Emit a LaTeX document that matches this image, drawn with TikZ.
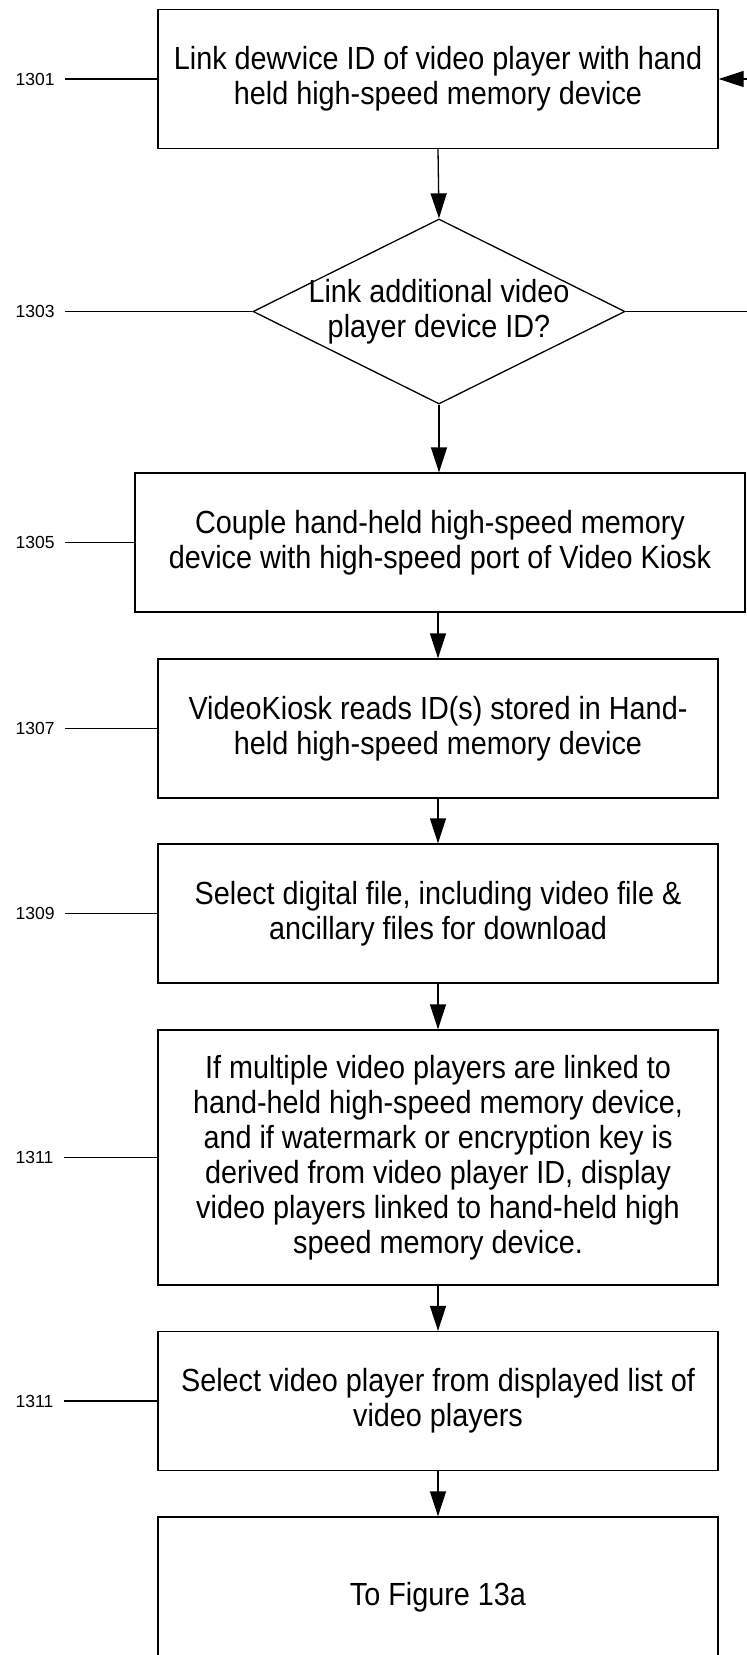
\documentclass[tikz,border=0pt]{standalone}
\usepackage{fontspec}
\setmainfont{Liberation Sans}
\newfontfamily\narrowfont[FakeStretch=0.9]{Liberation Sans}
\usetikzlibrary{arrows.meta,shapes.geometric}
\begin{document}
\begin{tikzpicture}[x=1pt,y=-1pt,
  line width=1.3pt,
  boxfont/.style={font=\narrowfont\fontsize{32}{35}\selectfont},
  stepbox/.style={draw,rectangle,minimum width=560pt,minimum height=139pt,inner sep=0pt,align=center,boxfont},
  reflabel/.style={anchor=west,inner sep=0pt,font=\fontsize{17.5}{20}\selectfont},
  arr/.style={-{Triangle[length=25pt,width=16pt]}}]
\useasboundingbox (0,0) rectangle (747,1655);
\clip (0,0) rectangle (747,1655);
% boxes
\node[stepbox] (b1) at (438,79) {Link dewvice ID of video player with hand\\held high-speed memory device};
\node[draw,diamond,minimum width=372pt,minimum height=185pt,inner sep=0pt] (d) at (439,311.5) {};
\node[align=center,inner sep=0pt,boxfont] (dt) at (d.center) {Link additional video\\player device ID?};
\node[stepbox,minimum width=610pt] (b2) at (440,542.5) {Couple hand-held high-speed memory\\device with high-speed port of Video Kiosk};
\node[stepbox] (b3) at (438,728.5) {VideoKiosk reads ID(s) stored in Hand-\\held high-speed memory device};
\node[stepbox] (b4) at (438,913.5) {Select digital file, including video file \&\\ancillary files for download};
\node[stepbox,minimum height=255pt] (b5) at (438,1157.5) {If multiple video players are linked to\\hand-held high-speed memory device,\\and if watermark or encryption key is\\derived from video player ID, display\\video players linked to hand-held high\\speed memory device.};
\node[stepbox] (b6) at (438,1401) {Select video player from displayed list of\\video players};
\node[stepbox,minimum height=160pt] (b7) at (438,1597) {To Figure 13a};
% flow arrows
\draw[arr] (b1.south) -- (d.north);
\draw[arr] (d.south) -- (d.south |- b2.north);
\draw[arr] (b2.south -| b3.north) -- (b3.north);
\draw[arr] (b3.south) -- (b4.north);
\draw[arr] (b4.south) -- (b5.north);
\draw[arr] (b5.south) -- (b6.north);
\draw[arr] (b6.south) -- (b7.north);
% loop from right edge
\coordinate (r1) at (747,79);
\coordinate (r2) at (747,311.5);
\draw[arr] (r1) -- (b1.east);
\draw (d.east) -- (r2);
% reference labels
\node[reflabel] (n1) at (15,79) {1301};
\node[reflabel] (n2) at (15,311.5) {1303};
\node[reflabel] (n3) at (15,542.5) {1305};
\node[reflabel] (n4) at (15,728.5) {1307};
\node[reflabel] (n5) at (15,913.5) {1309};
\node[reflabel] (n6) at (15,1157.5) {1311};
\node[reflabel] (n7) at (15,1401) {1311};
\draw[line width=1.1pt] (n1.east) ++(10,0) coordinate (c1) (c1) -- (b1.west);
\draw[line width=1.1pt] (n2.east) ++(10,0) coordinate (c2) (c2) -- (d.west);
\draw[line width=1.1pt] (n3.east) ++(10,0) coordinate (c3) (c3) -- (b2.west);
\draw[line width=1.1pt] (n4.east) ++(10,0) coordinate (c4) (c4) -- (b3.west);
\draw[line width=1.1pt] (n5.east) ++(10,0) coordinate (c5) (c5) -- (b4.west);
\draw[line width=1.1pt] (n6.east) ++(10,0) coordinate (c6) (c6) -- (b5.west);
\draw[line width=1.1pt] (n7.east) ++(10,0) coordinate (c7) (c7) -- (b6.west);
\end{tikzpicture}
\end{document}
